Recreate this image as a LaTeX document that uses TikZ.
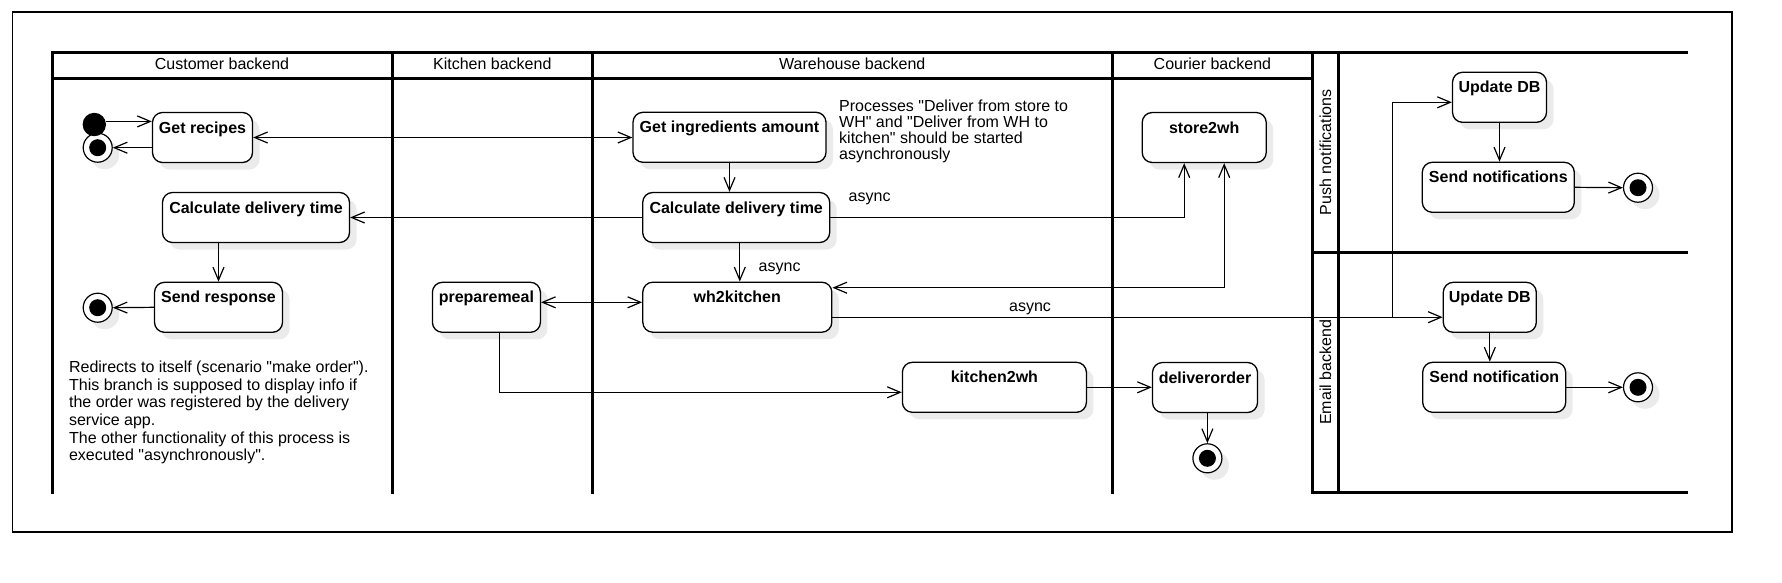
\documentclass[tikz,border=0pt]{standalone}
\usepackage{fontspec}
\setmainfont{Liberation Sans}[Ligatures=TeXOff]
\usetikzlibrary{arrows.meta,shadows}

\begin{document}
\begin{tikzpicture}[x=1pt,y=-1pt,font=\fontsize{16}{17.6}\selectfont,
  >={Straight Barb[length=13pt,width=11pt]},
  lane/.style={line width=3pt,line cap=rect},
  flow/.style={->,line width=1.2pt},
  both/.style={<->,line width=1.2pt},
  shade/.style={drop shadow={shadow xshift=7pt,shadow yshift=-7pt,fill=black!8,draw=none,opacity=1}},
  act/.style={draw,line width=1.3pt,rounded corners=10pt,fill=white,shade,
    font=\fontsize{16}{17.6}\selectfont\bfseries,inner xsep=4pt,inner ysep=0pt,
    text height=20.5pt,text depth=29.5pt},
  startnode/.style={circle,fill=black,minimum size=23.4pt,inner sep=0pt},
  endnode/.style={circle,draw,line width=1.2pt,fill=white,minimum size=29pt,inner sep=0pt,shade,
    path picture={\fill[black] (path picture bounding box.center) circle (8.5pt);}},
  lbl/.style={anchor=base}]
\useasboundingbox (0,0) rectangle (1782,582);
%\draw[step=10pt,gray,very thin] (0,0) grid (1782,582);

\draw[line width=1.2pt] (12.6,12) rectangle (1732,532);

% swimlanes
\draw[lane] (52,52.3) -- (1686.4,52.3);
\draw[lane] (52,78.3) -- (1312.5,78.3);
\draw[lane] (52,52.3) -- (52,492.3);
\draw[lane] (392.3,52.3) -- (392.3,492.3);
\draw[lane] (592.2,52.3) -- (592.2,492.3);
\draw[lane] (1112.4,52.3) -- (1112.4,492.3);
\draw[lane] (1312.5,52.3) -- (1312.5,492.3);   % push / email pools
\draw[lane] (1338.4,52.3) -- (1338.4,492.3);
\draw[lane] (1312.5,252.3) -- (1686.4,252.3);
\draw[lane] (1312.5,492.3) -- (1686.4,492.3);

\node[lbl] (hcust) at (222,69.8) {Customer backend};
\node[lbl] (hkit) at (492.3,69.8) {Kitchen backend};
\node[lbl] (hwh) at (852.3,69.8) {Warehouse backend};
\node[lbl] (hcour) at (1212.4,69.8) {Courier backend};
\node[rotate=90] (hpush) at (1325.4,152.3) {Push notifications};
\node[rotate=90] (hmail) at (1325.4,372.3) {Email backend};

% customer backend
\node[endnode] (fin1) at (97.7,147.7) {};
\node[startnode] (init) at (94.3,124.5) {};
\node[act,minimum width=100pt] (recipes) at (202.5,137.5) {Get recipes};
\node[act,minimum width=187pt] (calccust) at (256,217.5) {Calculate delivery time};
\node[act,minimum width=128pt] (sendresp) at (218.5,307.3) {Send response};
\node[endnode] (fin2) at (97.7,307.7) {};
\node[anchor=north west,align=left,inner sep=0pt,font=\fontsize{16}{17.7}\selectfont] (custnote) at (68.9,360.6)
  {Redirects to itself (scenario "make order").\\This branch is supposed to display info if\\the order was registered by the delivery\\service app.\\The other functionality of this process is\\executed "asynchronously".};

% kitchen backend
\node[act,minimum width=108pt] (prepmeal) at (486.4,307.3) {preparemeal};

% warehouse backend
\node[act,minimum width=193pt] (ingred) at (729.5,137.3) {Get ingredients amount};
\node[act,minimum width=187pt] (calcwh) at (736.2,217.5) {Calculate delivery time};
\node[act,minimum width=189pt] (wh2kit) at (737.3,307.2) {wh2kitchen};
\node[act,minimum width=184pt] (kit2wh) at (994.4,387.3) {kitchen2wh};
\node[anchor=north west,align=left,inner sep=0pt,font=\fontsize{16}{16.1}\selectfont] (whnote) at (839,99.3)
  {Processes "Deliver from store to\\WH" and "Deliver from WH to\\kitchen" should be started\\asynchronously};

% courier backend
\node[act,minimum width=124pt] (store2wh) at (1204.2,137.5) {store2wh};
\node[act,minimum width=105pt] (deliver) at (1205,387.5) {deliverorder};
\node[endnode] (fin3) at (1207.4,458.3) {};

% push notifications / email backend
\node[act,minimum width=94pt] (updpush) at (1499.5,97.3) {Update DB};
\node[act,minimum width=152pt] (sendpush) at (1498.3,187.3) {Send notifications};
\node[endnode] (fin4) at (1638,187.7) {};
\node[act,minimum width=93pt] (updmail) at (1489.8,307.3) {Update DB};
\node[act,minimum width=143pt] (sendmail) at (1494.2,387.3) {Send notification};
\node[endnode] (fin5) at (1638,387.3) {};

\node[lbl] (asynca) at (869.6,201) {async};
\node[lbl] (asyncb) at (779.6,271) {async};
\node[lbl] (asyncc) at (1030,311) {async};

% flows
\draw[flow] (init.15) -- (recipes.west |- init.15);
\draw[flow] (recipes.west |- fin1) -- (fin1.east);
\draw[both] (recipes.east) -- (recipes.east -| ingred.west);
\draw[flow] (ingred.south) -- (ingred.south |- calcwh.north);
\draw[flow] (calcwh.west) -- (calccust.east);
\draw[flow] (sendresp.north |- calccust.south) -- (sendresp.north);
\draw[flow] (sendresp.west) -- (fin2.east);
\draw[flow] ([xshift=3.6pt]calcwh.south) -- ([xshift=3.6pt]calcwh.south |- wh2kit.north);
\draw[flow] (calcwh.east) -| ([xshift=-20pt]store2wh.south);
\draw[both] ([yshift=19.5pt]wh2kit.east) -| ([xshift=20pt]store2wh.south);
\draw[both] ([yshift=5pt]prepmeal.east) -- ([yshift=5pt]prepmeal.east -| wh2kit.west);
\draw[flow] ([xshift=13.4pt]prepmeal.south) |- ([yshift=-5pt]kit2wh.west);
\draw[flow] (kit2wh.east) -- (deliver.west |- kit2wh.east);
\draw[flow] (deliver.south -| fin3) -- (fin3.north);

\coordinate (split) at (1392.3,317.5);
\draw[flow] ([yshift=-10pt]wh2kit.east) -- ([yshift=-10pt]wh2kit.east -| updmail.west);
\draw[flow] (split) |- ([yshift=-5pt]updpush.west);
\draw[flow] (updpush.south) -- (updpush.south |- sendpush.north);
\draw[flow] (sendpush.east) -- (fin4.west);
\draw[flow] (updmail.south) -- (updmail.south |- sendmail.north);
\draw[flow] (sendmail.east) -- (fin5.west);
\end{tikzpicture}
\end{document}
